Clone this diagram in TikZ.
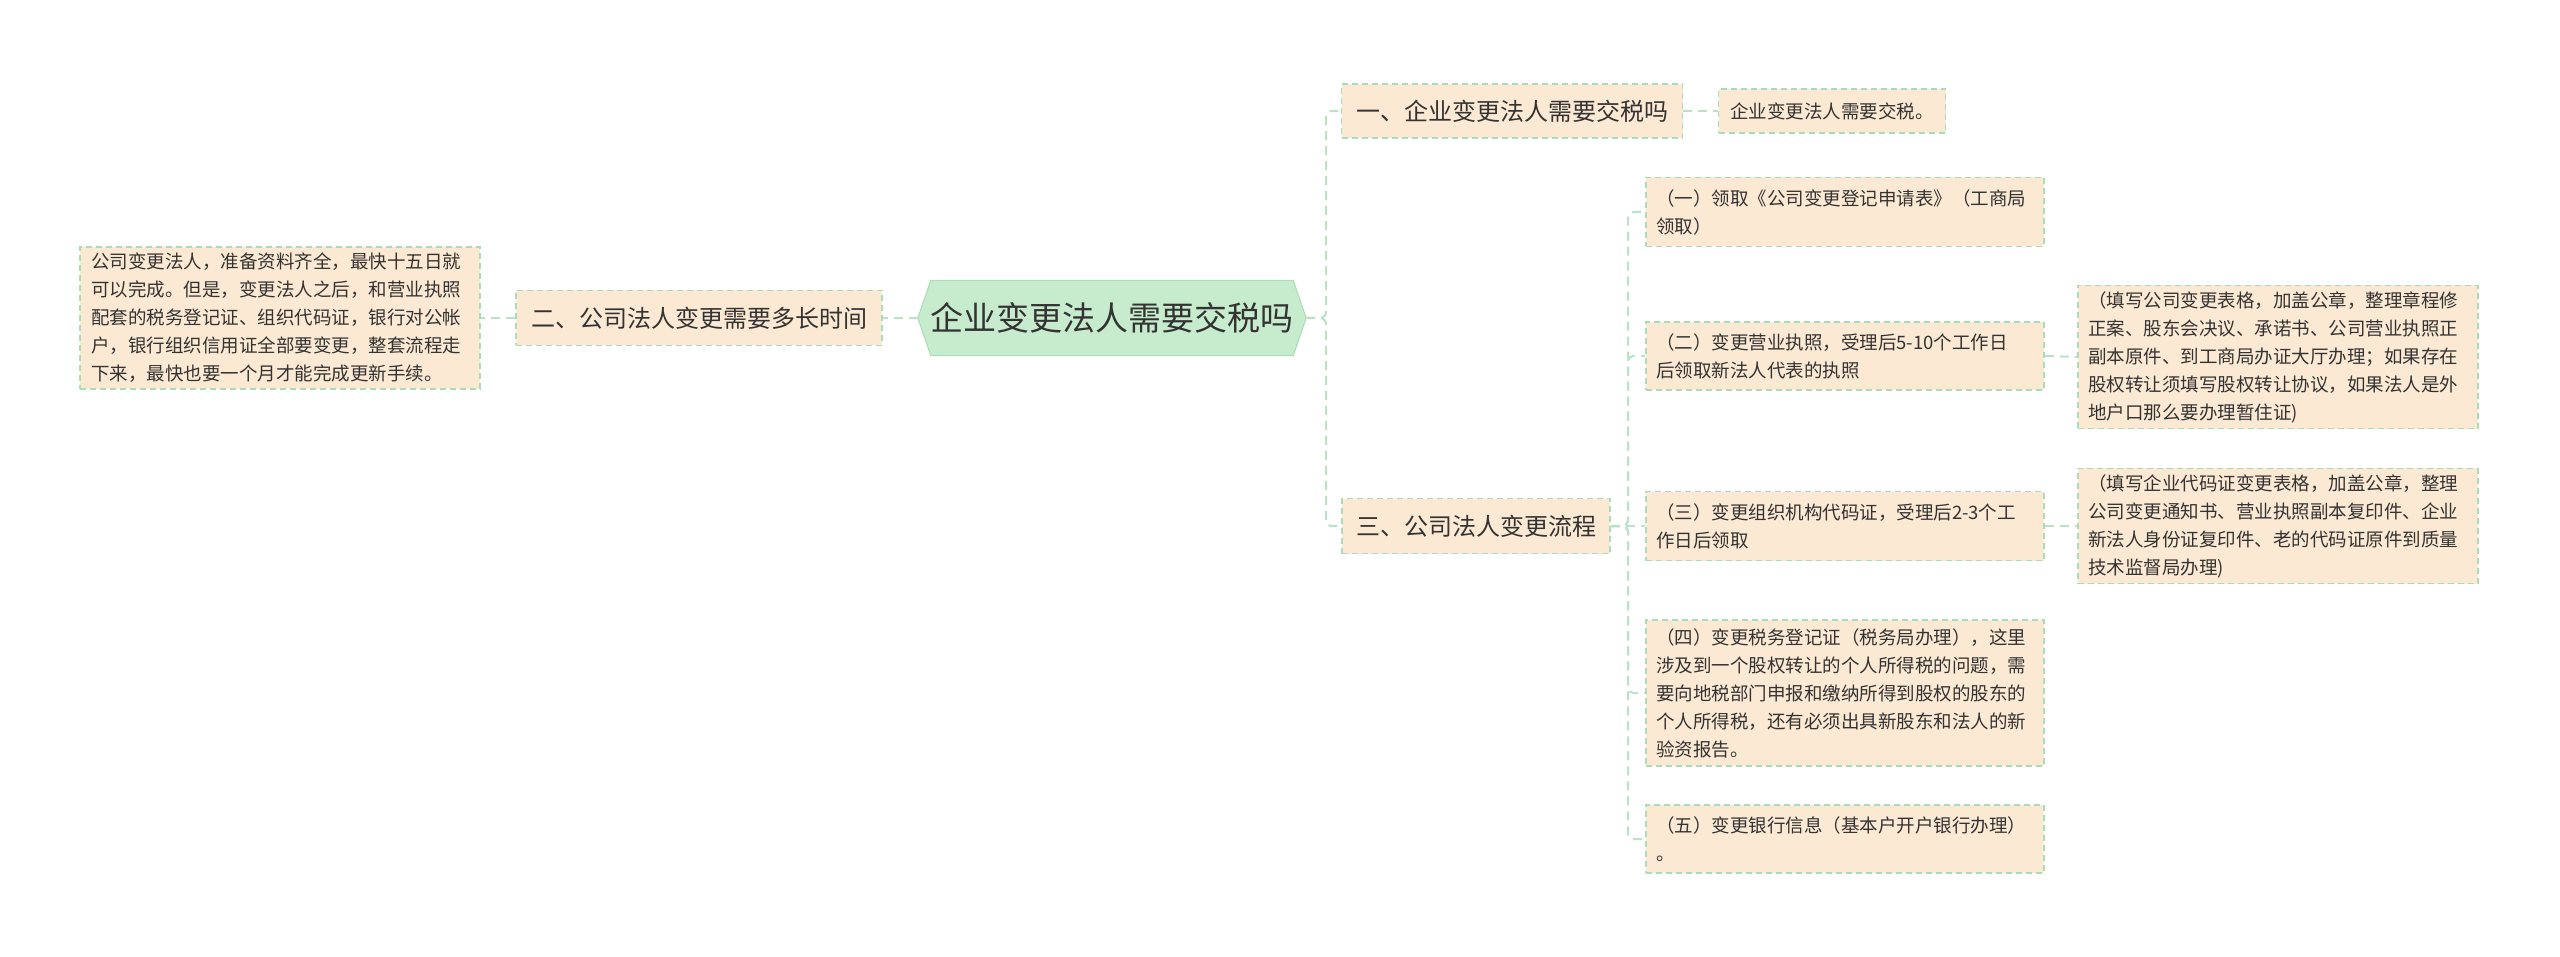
\documentclass[tikz,border=0pt]{standalone}
\usepackage{fontspec}
\setmainfont{Noto Sans CJK SC}
\usetikzlibrary{backgrounds}
\definecolor{boxfill}{HTML}{FCE9D3}
\definecolor{boxline}{HTML}{A9DDB9}
\definecolor{linkcol}{HTML}{B9E3C6}
\definecolor{cfill}{HTML}{C6ECCD}
\definecolor{cline}{HTML}{A9DDB5}
\definecolor{txt}{HTML}{333333}
\tikzset{
  box/.style={draw=boxline, fill=boxfill, dashed, dash pattern=on 6pt off 4pt, line width=1.5pt, text=txt, inner xsep=10pt, inner ysep=6pt, align=left, anchor=center},
  lvlone/.style={box, font={\fontsize{24}{32}\selectfont}, align=center},
  small/.style={box, font={\fontsize{18.5}{28}\selectfont}},
  link/.style={draw=linkcol, line width=2pt, dashed, dash pattern=on 9pt off 6pt, rounded corners=6pt},
}
\begin{document}
\begin{tikzpicture}[x=1pt,y=-1pt]
\useasboundingbox (0,0) rectangle (2560,957);

% central
\node[text=txt, font={\fontsize{33}{40}\selectfont}, minimum width=388pt, minimum height=75pt, inner sep=0pt] (c) at (1112,318) {企业变更法人需要交税吗};

% left branch
\node[lvlone, minimum width=366pt, minimum height=55pt] (n2) at (699,318) {二、公司法人变更需要多长时间};
\node[small, minimum width=400pt, minimum height=142pt, text width=378pt] (lL) at (280,318) {公司变更法人，准备资料齐全，最快十五日就\\可以完成。但是，变更法人之后，和营业执照\\配套的税务登记证、组织代码证，银行对公帐\\户，银行组织信用证全部要变更，整套流程走\\下来，最快也要一个月才能完成更新手续。};

% right branch
\node[lvlone, minimum width=341pt, minimum height=54pt] (n1) at (1512,111) {一、企业变更法人需要交税吗};
\node[small, minimum width=227pt, minimum height=44pt, align=center] (l1) at (1832,111) {企业变更法人需要交税。};
\node[lvlone, minimum width=268pt, minimum height=55pt] (n3) at (1476,526) {三、公司法人变更流程};

\node[small, minimum width=398pt, minimum height=69pt, text width=378pt] (s1) at (1845,212) {（一）领取《公司变更登记申请表》（工商局\\领取）};
\node[small, minimum width=398pt, minimum height=68pt, text width=378pt] (s2) at (1845,356) {（二）变更营业执照，受理后5-10个工作日\\后领取新法人代表的执照};
\node[small, minimum width=400pt, minimum height=142pt, text width=380pt] (l2) at (2278,357) {（填写公司变更表格，加盖公章，整理章程修\\正案、股东会决议、承诺书、公司营业执照正\\副本原件、到工商局办证大厅办理；如果存在\\股权转让须填写股权转让协议，如果法人是外\\地户口那么要办理暂住证)};
\node[small, minimum width=398pt, minimum height=69pt, text width=378pt] (s3) at (1845,526) {（三）变更组织机构代码证，受理后2-3个工\\作日后领取};
\node[small, minimum width=400pt, minimum height=114pt, text width=380pt] (l3) at (2278,526) {（填写企业代码证变更表格，加盖公章，整理\\公司变更通知书、营业执照副本复印件、企业\\新法人身份证复印件、老的代码证原件到质量\\技术监督局办理)};
\node[small, minimum width=398pt, minimum height=146pt, text width=378pt] (s4) at (1845,693) {（四）变更税务登记证（税务局办理），这里\\涉及到一个股权转让的个人所得税的问题，需\\要向地税部门申报和缴纳所得到股权的股东的\\个人所得税，还有必须出具新股东和法人的新\\验资报告。};
\node[small, minimum width=398pt, minimum height=68pt, text width=378pt] (s5) at (1845,839) {（五）变更银行信息（基本户开户银行办理）\\。};

\coordinate (j1) at (1326,318);
\coordinate (j2) at (1628,526);

\begin{scope}[on background layer]
\fill[white] (0,0) rectangle (2560,957);
\filldraw[fill=cfill, draw=cline, line width=1pt] (c.west) -- ([xshift=13pt]c.north west) -- ([xshift=-13pt]c.north east) -- (c.east) -- ([xshift=-13pt]c.south east) -- ([xshift=13pt]c.south west) -- cycle;
\draw[link] (c.west) -- (n2.east);
\draw[link] (n2.west) -- (lL.east);
\draw[link] (c.east) -- (j1) |- (n1.west);
\draw[link] (c.east) -- (j1) |- (n3.west);
\draw[link] (n1.east) -- (l1.west);
\draw[link] (n3.east) -- (j2) |- (s1.west);
\draw[link] (n3.east) -- (j2) |- (s2.west);
\draw[link] (n3.east) -- (s3.west);
\draw[link] (n3.east) -- (j2) |- (s4.west);
\draw[link] (n3.east) -- (j2) |- (s5.west);
\draw[link] (s2.east) -- (l2.west);
\draw[link] (s3.east) -- (l3.west);
\end{scope}
\end{tikzpicture}
\end{document}
